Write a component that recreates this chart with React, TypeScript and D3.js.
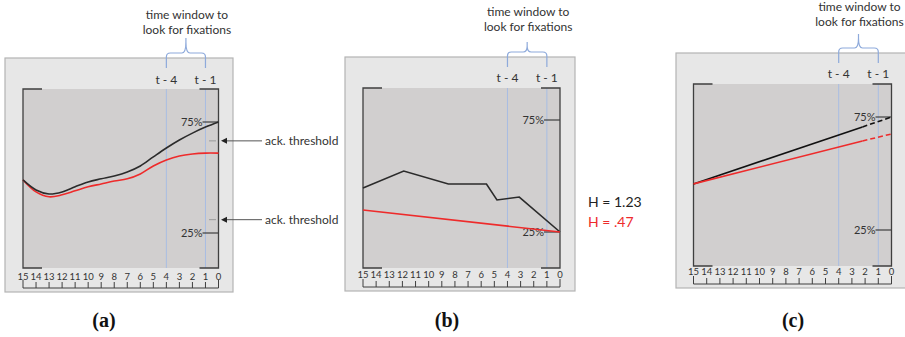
import React, { useRef, useEffect } from "react";
import * as d3 from "d3";

// time steps shown on the x axis (15 ... 0)
const timeTicks = [15, 14, 13, 12, 11, 10, 9, 8, 7, 6, 5, 4, 3, 2, 1, 0];
const windowTicks = [4, 1];
const pctTicks = [75, 25];

// (a) smooth fixation curves, value in %
const aSteps = [15, 14, 13, 12, 11, 10, 9, 8, 7, 6, 5, 4, 3, 2, 1, 0];
const aBlack = [48.9, 44.4, 42.6, 43.5, 45.8, 48.0, 49.4, 50.7, 52.5, 55.2, 59.3, 63.3, 66.9, 70.0, 72.7, 75.0];
const aRed = [48.9, 43.5, 41.3, 42.2, 44.0, 45.8, 47.1, 48.4, 49.4, 51.6, 55.2, 57.9, 59.7, 60.6, 61.0, 61.0];

// (b) jagged vs. straight
const bBlackSteps = [15, 11.9, 8.5, 5.6, 4.8, 3.1, 0];
const bBlack = [44.6, 52.2, 46.4, 46.4, 39.3, 40.6, 25.0];
const bRedSteps = [15, 0];
const bRed = [34.8, 25.0];

// (c) linear trends, dashed past the split step
const cSteps = [15, 2.2, 0];
const cBlack = [45.4, 70.6, 75.0];
const cRed = [45.4, 64.4, 67.5];

const entropyLabels = ["H = 1.23", "H = .47"];

const FONT = "Lato, 'Open Sans', sans-serif";
const BLUE = "#a8bde3";
const DARK = "#3f3f3f";
const RED = "#ee2b2b";

interface PanelLayout {
  name: string;
  box: [number, number, number, number];
  x0: number;
  x1: number;
  top: number;
  bottom: number;
  y75: number;
  y25: number;
  numY: number;
  barY: number;
  tY: number;
  textY: number;
  bracketTop: number;
  labelX: number;
}

const layouts: PanelLayout[] = [
  { name: "(a)", box: [5, 58, 228, 234], x0: 23, x1: 218.5, top: 89, bottom: 268, y75: 122, y25: 233, numY: 280, barY: 288, tY: 84, textY: 19, bracketTop: 38, labelX: 104 },
  { name: "(b)", box: [345, 57, 230, 234], x0: 363, x1: 560, top: 88, bottom: 268, y75: 120, y25: 232, numY: 278, barY: 287, tY: 82, textY: 16, bracketTop: 42, labelX: 447 },
  { name: "(c)", box: [676, 53, 240, 235], x0: 693.5, x1: 891.5, top: 84, bottom: 266, y75: 117, y25: 230, numY: 275, barY: 284, tY: 78, textY: 11, bracketTop: 34, labelX: 793 },
];

export default function App() {
  const ref = useRef<SVGSVGElement | null>(null);

  useEffect(() => {
    if (!ref.current) return;
    const svg = d3.select(ref.current);
    svg.selectAll("*").remove();

    layouts.forEach((L, i) => {
      const g = svg.append("g");
      const x = d3.scaleLinear().domain([15, 0]).range([L.x0, L.x1]);
      const y = d3.scaleLinear().domain([25, 75]).range([L.y25, L.y75]);

      // outer light box
      g.append("rect")
        .attr("x", L.box[0]).attr("y", L.box[1])
        .attr("width", L.box[2]).attr("height", L.box[3])
        .attr("fill", "#e7e7e7").attr("stroke", "#b4b4b4").attr("stroke-width", 1.2);

      // plot area
      g.append("rect")
        .attr("x", L.x0).attr("y", L.top)
        .attr("width", L.x1 - L.x0).attr("height", L.bottom - L.top)
        .attr("fill", "#d1cfcf");

      // blue window lines
      windowTicks.forEach((t) => {
        g.append("line")
          .attr("x1", x(t)).attr("x2", x(t))
          .attr("y1", L.top).attr("y2", L.bottom)
          .attr("stroke", BLUE).attr("stroke-width", 1);
        g.append("text")
          .attr("x", x(t)).attr("y", L.tY)
          .attr("text-anchor", "middle")
          .attr("font-family", FONT).attr("font-size", 12).attr("fill", "#333")
          .text(`t - ${t}`);
      });

      // bracket over the window
      const bl = x(4), br = x(1), bm = (bl + br) / 2;
      const bBot = L.box[1] + 10, bMid = L.box[1] - 5;
      g.append("path")
        .attr("d", `M${bl},${bBot} L${bl},${bMid + 4} Q${bl},${bMid} ${bl + 4},${bMid} L${bm - 4},${bMid} Q${bm},${bMid} ${bm},${L.bracketTop + 4} L${bm},${L.bracketTop}
                    M${bm},${L.bracketTop + 4} Q${bm},${bMid} ${bm + 4},${bMid} L${br - 4},${bMid} Q${br},${bMid} ${br},${bMid + 4} L${br},${bBot}`)
        .attr("fill", "none").attr("stroke", "#8eaadb").attr("stroke-width", 1.2);
      g.append("text")
        .attr("x", bm + 1).attr("y", L.textY)
        .attr("text-anchor", "middle")
        .attr("font-family", FONT).attr("font-size", 12).attr("fill", "#333")
        .text("time window to");
      g.append("text")
        .attr("x", bm + 1).attr("y", L.textY + 15)
        .attr("text-anchor", "middle")
        .attr("font-family", FONT).attr("font-size", 12).attr("fill", "#333")
        .text("look for fixations");

      // dark frame: full sides, partial top/bottom corners
      const c = 19;
      const frame = `M${L.x0 + c},${L.top} L${L.x0},${L.top} L${L.x0},${L.bottom} L${L.x0 + c},${L.bottom}
                     M${L.x1 - c},${L.top} L${L.x1},${L.top} L${L.x1},${L.bottom} L${L.x1 - c},${L.bottom}`;
      g.append("path").attr("d", frame).attr("fill", "none").attr("stroke", DARK).attr("stroke-width", 1.3);

      // percent ticks on right side
      pctTicks.forEach((p) => {
        g.append("line")
          .attr("x1", L.x1 - 16).attr("x2", L.x1)
          .attr("y1", y(p)).attr("y2", y(p))
          .attr("stroke", DARK).attr("stroke-width", 1.2);
        g.append("text")
          .attr("x", L.x1 - 16).attr("y", y(p) + 4)
          .attr("text-anchor", "end")
          .attr("font-family", FONT).attr("font-size", 11).attr("fill", "#333")
          .text(`${p}%`);
      });

      // bottom time axis
      g.append("line")
        .attr("x1", x(15)).attr("x2", x(0))
        .attr("y1", L.barY).attr("y2", L.barY)
        .attr("stroke", DARK).attr("stroke-width", 1);
      timeTicks.forEach((t) => {
        const tall = t === 15 || t === 0;
        g.append("line")
          .attr("x1", x(t)).attr("x2", x(t))
          .attr("y1", L.barY - (tall ? 8 : 6)).attr("y2", L.barY)
          .attr("stroke", DARK).attr("stroke-width", 1);
        g.append("text")
          .attr("x", x(t)).attr("y", L.numY)
          .attr("text-anchor", "middle")
          .attr("font-family", FONT).attr("font-size", 9.5).attr("fill", "#333")
          .text(t);
      });

      // panel label
      g.append("text")
        .attr("x", L.labelX).attr("y", 327)
        .attr("text-anchor", "middle")
        .attr("font-family", "'Liberation Serif', 'DejaVu Serif', serif")
        .attr("font-weight", "bold").attr("font-size", 20).attr("fill", "#111")
        .text(L.name);

      const drawLine = (steps: number[], vals: number[], color: string, curve: d3.CurveFactory, dash?: string) => {
        const line = d3.line<number>()
          .x((_, k) => x(steps[k]))
          .y((d) => y(d))
          .curve(curve);
        g.append("path")
          .attr("d", line(vals)!)
          .attr("fill", "none").attr("stroke", color).attr("stroke-width", 1.6)
          .attr("stroke-dasharray", dash ?? null);
      };

      if (i === 0) {
        drawLine(aSteps, aRed, RED, d3.curveCatmullRom.alpha(0.5));
        drawLine(aSteps, aBlack, "#2b2b2b", d3.curveCatmullRom.alpha(0.5));
        // ack. threshold annotations
        [y(66.5), y(31)].forEach((yy) => {
          g.append("line")
            .attr("x1", 209).attr("x2", 216).attr("y1", yy).attr("y2", yy)
            .attr("stroke", "#9a9a9a").attr("stroke-width", 1);
          g.append("line")
            .attr("x1", 262).attr("x2", 225).attr("y1", yy).attr("y2", yy)
            .attr("stroke", "#555").attr("stroke-width", 1);
          g.append("path")
            .attr("d", `M221,${yy} L227,${yy - 3} L227,${yy + 3} Z`)
            .attr("fill", "#222");
          g.append("text")
            .attr("x", 265).attr("y", yy + 4)
            .attr("font-family", FONT).attr("font-size", 12).attr("fill", "#333")
            .text("ack. threshold");
        });
      } else if (i === 1) {
        drawLine(bBlackSteps, bBlack, "#2b2b2b", d3.curveLinear);
        drawLine(bRedSteps, bRed, RED, d3.curveLinear);
        entropyLabels.forEach((lbl, k) => {
          g.append("text")
            .attr("x", 588).attr("y", 207 + k * 20)
            .attr("font-family", FONT).attr("font-size", 14)
            .attr("fill", k === 0 ? "#222" : RED)
            .text(lbl);
        });
      } else {
        drawLine(cSteps.slice(0, 2), cBlack.slice(0, 2), "#111", d3.curveLinear);
        drawLine(cSteps.slice(1), cBlack.slice(1), "#111", d3.curveLinear, "5,3");
        drawLine(cSteps.slice(0, 2), cRed.slice(0, 2), RED, d3.curveLinear);
        drawLine(cSteps.slice(1), cRed.slice(1), RED, d3.curveLinear, "5,3");
      }
    });
  }, []);

  return (
    <div style={{ position: "absolute", left: 0, top: 0 }}>
      <svg ref={ref} width={905} height={337} style={{ display: "block", background: "#fff" }} />
    </div>
  );
}
